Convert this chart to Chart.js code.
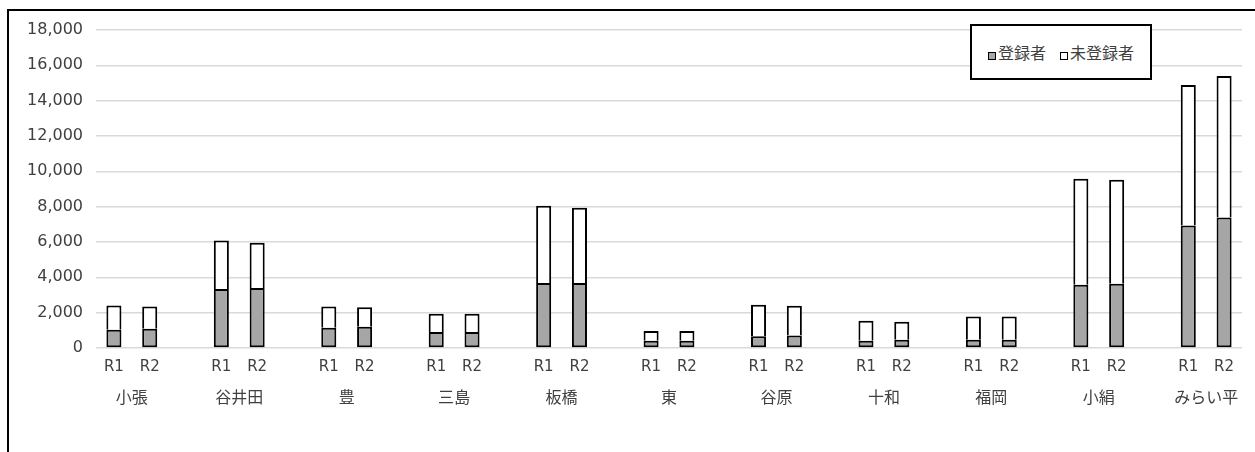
<!DOCTYPE html>
<html lang="ja">
<head>
<meta charset="utf-8">
<script src="https://cdn.jsdelivr.net/npm/chart.js@4/dist/chart.umd.min.js"></script>
<style>
  html, body { margin: 0; padding: 0; background: #fff; }
  #wrap { position: relative; width: 1255px; height: 452px; overflow: hidden; }
  #frame { position: absolute; left: 7px; top: 9px; width: 1260px; height: 460px; border: 2px solid #000; box-sizing: border-box; pointer-events: none; }
  #legend { position: absolute; left: 970px; top: 24px; width: 182px; height: 56px; border: 2px solid #000; box-sizing: border-box; background: #fff;
            display: flex; align-items: center; justify-content: center; font: 16px "Noto Sans CJK JP", sans-serif; color: #404040; }
  #legend span.sw { display: inline-block; width: 6px; height: 6px; border: 1.5px solid #000; margin-right: 2px; vertical-align: -1px; }
  #legend .item { margin: 0 7px; white-space: nowrap; }
  canvas { position: absolute; left: 0; top: 0; }
</style>
</head>
<body>
<div id="wrap">
  <canvas id="chart" width="1255" height="452"></canvas>
  <div id="frame"></div>
  <div id="legend"></div>
</div>
<script>
document.addEventListener('DOMContentLoaded', function() {
    // Data
    const categories = ['小張', '谷井田', '豊', '三島', '板橋', '東', '谷原', '十和', '福岡', '小絹', 'みらい平'];
    const years = ['R1', 'R2'];
    const registeredR1 = [1040, 3340, 1150, 900, 3680, 410, 660, 410, 470, 3580, 6930];
    const registeredR2 = [1090, 3390, 1200, 900, 3680, 410, 710, 470, 470, 3640, 7390];
    const totalR1 = [2410, 6090, 2350, 1940, 8050, 960, 2450, 1540, 1790, 9580, 14880];
    const totalR2 = [2350, 5960, 2300, 1940, 7940, 960, 2390, 1490, 1790, 9520, 15400];
    const yTicks = [0, 2000, 4000, 6000, 8000, 10000, 12000, 14000, 16000, 18000];
    const seriesNames = ['登録者', '未登録者'];
    const seriesColors = ['#a6a6a6', '#ffffff'];

    // Build slot arrays: R1, R2, blank gap between groups
    const labels = [];
    const registered = [];
    const unregistered = [];
    categories.forEach((c, i) => {
        labels.push(years[0], years[1]);
        registered.push(registeredR1[i], registeredR2[i]);
        unregistered.push(totalR1[i] - registeredR1[i], totalR2[i] - registeredR2[i]);
        if (i < categories.length - 1) {
            labels.push('');
            registered.push(null);
            unregistered.push(null);
        }
    });

    // Group names sit on slot boundaries (between R1 and R2)
    const groupLabels = new Array(labels.length + 1).fill('');
    categories.forEach((c, i) => { groupLabels[3 * i + 1] = c; });

    // Legend
    const legend = document.getElementById('legend');
    seriesNames.forEach((name, i) => {
        const item = document.createElement('span');
        item.className = 'item';
        item.innerHTML = `<span class="sw" style="background:${seriesColors[i]}"></span>${name}`;
        legend.appendChild(item);
    });

    const textColor = '#404040';
    const bar = {
        borderColor: '#000',
        borderWidth: 2,
        barPercentage: 0.42,
        categoryPercentage: 1.0
    };

    new Chart(document.getElementById('chart').getContext('2d'), {
        type: 'bar',
        data: {
            labels: labels,
            datasets: [
                Object.assign({ label: seriesNames[0], data: registered, backgroundColor: seriesColors[0], borderSkipped: false }, bar),
                Object.assign({ label: seriesNames[1], data: unregistered, backgroundColor: seriesColors[1], borderSkipped: 'bottom' }, bar)
            ]
        },
        options: {
            responsive: false,
            animation: false,
            layout: { padding: { top: 30, right: 13, bottom: 30, left: 0 } },
            plugins: { legend: { display: false }, tooltip: { enabled: false } },
            scales: {
                x: {
                    stacked: true,
                    weight: 0,
                    grid: { display: false, drawTicks: false },
                    border: { display: false },
                    ticks: { color: textColor, font: { family: 'DejaVu Sans', size: 15 }, padding: 10, autoSkip: false, maxRotation: 0 },
                    afterFit: s => { s.height = 34; }
                },
                g: {
                    type: 'category',
                    labels: groupLabels,
                    position: 'bottom',
                    weight: 1,
                    offset: false,
                    grid: { display: false, drawTicks: false, offset: false },
                    border: { display: false },
                    ticks: { autoSkip: false, maxRotation: 0, color: textColor,
                             font: { family: 'Noto Sans CJK JP', size: 16 }, padding: 5 },
                    afterFit: s => { s.height = 40; }
                },
                y: {
                    stacked: true,
                    min: 0,
                    max: 18000,
                    afterBuildTicks: s => { s.ticks = yTicks.map(v => ({ value: v })); },
                    grid: { color: '#d9d9d9', lineWidth: 1.5, drawTicks: false },
                    border: { display: false },
                    ticks: { color: textColor, font: { family: 'DejaVu Sans', size: 16 }, padding: 13,
                             callback: v => v.toLocaleString('en-US') },
                    afterFit: s => { s.width = 96; }
                }
            }
        }
    });
});
</script>
</body>
</html>
